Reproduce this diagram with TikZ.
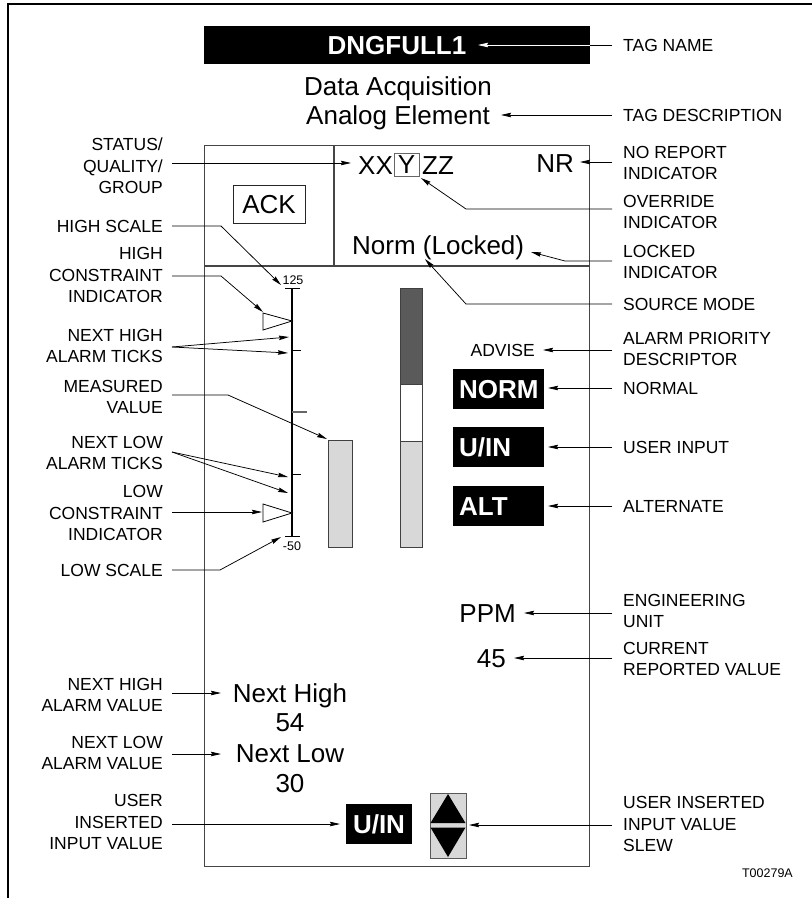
\documentclass[tikz,border=0pt]{standalone}
\usepackage{fontspec}
\setmainfont{Liberation Sans}
\usetikzlibrary{arrows.meta}
\newcommand\labfont{\fontsize{17.5}{21.5}\selectfont}
\newcommand\dispfont{\fontsize{26}{30}\selectfont}
\newcommand\boldfont{\fontsize{26}{30}\selectfont\bfseries}
\newcommand\tinyfont{\fontsize{12.5}{14}\selectfont}
\definecolor{bardark}{HTML}{5A5A5A}
\definecolor{barlight}{HTML}{D8D8D8}
\definecolor{framegray}{HTML}{454545}
\begin{document}
\begin{tikzpicture}[x=1pt,y=-1pt,
  lab/.style={font=\labfont, inner sep=0pt},
  labR/.style={lab, anchor=east, align=right},
  labL/.style={lab, anchor=west, align=left},
  disp/.style={font=\dispfont, inner sep=0pt, text height=18.7pt, text depth=0pt},
  arr/.style={draw=black, line width=0.75pt, -{Stealth[length=10pt,width=4.5pt,inset=1pt]}},
  plain/.style={draw=black, line width=0.75pt},
  frame/.style={draw=framegray, line width=1.1pt},
  bbox/.style={fill=black, text=white, font=\boldfont, inner xsep=6pt, inner ysep=0pt,
    text height=18.7pt, text depth=0pt, minimum height=40pt, text width=79pt,
    align=left, anchor=north west},
  constr/.style={draw=black, fill=white, line width=0.8pt, line join=miter}
]
\useasboundingbox (0,0) rectangle (812,898);
% outer frame
\draw[line width=1.2pt] (8,898) -- (8,4) -- (812,4);

% tag name
\node (tagbox) [fill=black, minimum width=386pt, minimum height=38pt, inner sep=0pt] at (397,45) {};
\node (tagtext) [font=\boldfont, text=white, text height=18.7pt, text depth=0pt, inner sep=0pt] at (397,45) {DNGFULL1};
\node (desc1) [disp] at (398,86) {Data Acquisition};
\node (desc2) [disp] at (398,115.5) {Analog Element};

% display frame
\node (panel) [frame, minimum width=385pt, minimum height=721pt, inner sep=0pt, anchor=north west] at (204,145) {};
\draw[frame] (204,266) -- (589,266);
\draw[frame] (334,145) -- (334,266);

\node (ack) [draw=black!85, line width=0.8pt, font=\dispfont, text height=18.7pt, text depth=0pt, inner sep=0pt, minimum width=72pt, minimum height=38pt] at (269,204) {ACK};
\node (xx) [disp, anchor=west] at (358,165) {XX};
\node (yy) [disp, draw=black!60, line width=0.8pt, minimum width=25pt, minimum height=23pt] at (406.5,164.5) {Y};
\node (zz) [disp, anchor=west] at (422,165) {ZZ};
\node (nr) [disp, anchor=east] at (574,163) {NR};
\node (norml) [disp, anchor=west] at (352,245) {Norm (Locked)};

% scale
\draw[line width=1.1pt] (292,288) -- (292,536);
\draw[line width=1pt] (285,288) -- (300,288);
\draw[line width=1pt] (285,536) -- (300,536);
\draw[line width=1pt] (292,350) -- (301,350);
\draw[line width=1.1pt, draw=black!60] (292,412) -- (307,412);
\draw[line width=1pt] (292,474) -- (301,474);
\node (s125) [font=\tinyfont, inner sep=0pt, text height=9pt, text depth=0pt] at (293,280) {125};
\node (s50) [font=\tinyfont, inner sep=0pt, text height=9pt, text depth=0pt] at (292,546) {-50};
\draw[constr] (263,313) -- (292,321) -- (263,330) -- cycle;
\draw[constr] (263,504) -- (292,513) -- (263,522) -- cycle;

% bars
\draw[draw=black!75, fill=barlight, line width=0.9pt] (328,440) rectangle (352,547);
\fill[bardark] (400,288) rectangle (422,384);
\fill[white] (400,384) rectangle (422,441);
\fill[barlight] (400,441) rectangle (422,547);
\draw[draw=black!75, line width=0.9pt] (400,288) rectangle (422,547);
\draw[draw=black!75, line width=0.9pt] (400,384) -- (422,384);
\draw[draw=black!75, line width=0.9pt] (400,441) -- (422,441);

% right column indicators
\node (advise) [lab, anchor=east, text height=12.6pt, text depth=0pt] at (535,350) {ADVISE};
\node (norm) [bbox] at (453,368.5) {NORM};
\node (uin) [bbox] at (453,427) {U/IN};
\node (alt) [bbox] at (453,485.5) {ALT};
\node (ppm) [disp, anchor=east] at (516,613) {PPM};
\node (cur) [disp, anchor=east] at (506,658) {45};

% next alarm values
\node (nh) [disp] at (290,693) {Next High};
\node (nhval) [disp] at (290,722) {54};
\node (nl) [disp] at (290,753) {Next Low};
\node (nlval) [disp] at (290,783) {30};

% user input + slew
\node (uin2) [fill=black, text=white, font=\boldfont, text height=18.7pt, text depth=0pt, inner sep=0pt, minimum width=66pt, minimum height=40pt] at (379,824) {U/IN};
\node (slew) [draw=black!65, fill=barlight, line width=0.9pt, minimum width=36pt, minimum height=65pt, inner sep=0pt, anchor=north west] at (430,793) {};
\fill[black] (430.5,823) -- (448,794) -- (465.5,823) -- cycle;
\fill[black] (430.5,827.5) -- (465.5,827.5) -- (448,857) -- cycle;

\node (fig) [font=\tinyfont, anchor=east, inner sep=0pt, text height=9pt, text depth=0pt] at (793,873) {T00279A};

% right labels
\node[labL] (ltag) at (623,45) {TAG NAME};
\node[labL] (ldesc) at (623,115) {TAG DESCRIPTION};
\node[labL] (lnr) at (623,163) {NO REPORT\\INDICATOR};
\node[labL] (lovr) at (623,212) {OVERRIDE\\INDICATOR};
\node[labL] (llock) at (623,262) {LOCKED\\INDICATOR};
\node[labL] (lsrc) at (623,304) {SOURCE MODE};
\node[labL] (lprio) at (623,349) {ALARM PRIORITY\\DESCRIPTOR};
\node[labL] (lnorm) at (623,388) {NORMAL};
\node[labL] (luin) at (623,447) {USER INPUT};
\node[labL] (lalt) at (623,506) {ALTERNATE};
\node[labL] (leng) at (623,611) {ENGINEERING\\UNIT};
\node[labL] (lcur) at (623,659) {CURRENT\\REPORTED VALUE};
\node[labL] (lslew) at (623,824) {USER INSERTED\\INPUT VALUE\\SLEW};

% left labels
\node[labR] (lstatus) at (163,166) {STATUS/\\QUALITY/\\GROUP};
\node[labR] (lhscale) at (163,226) {HIGH SCALE};
\node[labR] (lhcon) at (163,275) {HIGH\\CONSTRAINT\\INDICATOR};
\node[labR] (lnht) at (163,346) {NEXT HIGH\\ALARM TICKS};
\node[labR] (lmeas) at (163,397) {MEASURED\\VALUE};
\node[labR] (lnlt) at (163,453) {NEXT LOW\\ALARM TICKS};
\node[labR] (llcon) at (163,513) {LOW\\CONSTRAINT\\INDICATOR};
\node[labR] (llscale) at (163,570) {LOW SCALE};
\node[labR] (lnhv) at (163,695) {NEXT HIGH\\ALARM VALUE};
\node[labR] (lnlv) at (163,753) {NEXT LOW\\ALARM VALUE};
\node[labR] (luser) at (163,822) {USER\\INSERTED\\INPUT VALUE};

% arrow targets and bends
\coordinate (tTag) at (478,45);
\coordinate (tDesc) at (501,115);
\coordinate (tNR) at (580,162);
\coordinate (bOvr) at (466,209);
\coordinate (tOvr) at (421,178);
\coordinate (bLock) at (565,261);
\coordinate (tLock) at (531,252);
\coordinate (bSrc) at (466,304);
\coordinate (tSrc) at (425,259);
\coordinate (tPrio) at (543,350);
\coordinate (tNorm) at (548,388);
\coordinate (tUin) at (548,447);
\coordinate (tAlt) at (548,506);
\coordinate (tEng) at (524,613);
\coordinate (tCur) at (514,658);
\coordinate (tSlew) at (469,825);
\coordinate (tStatus) at (351,163);
\coordinate (bHs) at (221,226);
\coordinate (tHs) at (281,285);
\coordinate (bHc) at (221,276);
\coordinate (tHc) at (263,312);
\coordinate (tNht1) at (289,337);
\coordinate (tNht2) at (288,353);
\coordinate (bMeas) at (228,395);
\coordinate (tMeas) at (327,439);
\coordinate (tNlt1) at (288,477);
\coordinate (tNlt2) at (288,493);
\coordinate (tLc) at (262,512);
\coordinate (bLs) at (220,570);
\coordinate (tLs) at (281,537);
\coordinate (tNhv) at (221,693);
\coordinate (tNlv) at (221,754);
\coordinate (tUser) at (340,824);

% right arrows
\draw[plain] ([shift={(-11,0)}]ltag.west) -- (tagbox.east);
\draw[arr, draw=white, fill=white] (tagbox.east) -- (tTag);
\draw[arr] ([shift={(-11,0)}]ldesc.west) -- (tDesc);
\draw[arr] ([shift={(-11,-1)}]lnr.west) -- (tNR);
\draw[arr] ([shift={(-11,-3)}]lovr.west) -- (bOvr) -- (tOvr);
\draw[arr] ([shift={(-11,-1)}]llock.west) -- (bLock) -- (tLock);
\draw[arr] ([shift={(-11,0)}]lsrc.west) -- (bSrc) -- (tSrc);
\draw[arr] ([shift={(-11,1)}]lprio.west) -- (tPrio);
\draw[arr] ([shift={(-11,0)}]lnorm.west) -- (tNorm);
\draw[arr] ([shift={(-11,0)}]luin.west) -- (tUin);
\draw[arr] ([shift={(-11,0)}]lalt.west) -- (tAlt);
\draw[arr] ([shift={(-11,2)}]leng.west) -- (tEng);
\draw[arr] ([shift={(-11,-1)}]lcur.west) -- (tCur);
\draw[arr] ([shift={(-11,1)}]lslew.west) -- (tSlew);

% left arrows
\draw[arr] ([shift={(9,-3)}]lstatus.east) -- (tStatus);
\draw[arr] ([shift={(9,0)}]lhscale.east) -- (bHs) -- (tHs);
\draw[arr] ([shift={(9,1)}]lhcon.east) -- (bHc) -- (tHc);
\draw[arr] ([shift={(9,1)}]lnht.east) -- (tNht1);
\draw[arr] ([shift={(9,1)}]lnht.east) -- (tNht2);
\draw[arr] ([shift={(9,-2)}]lmeas.east) -- (bMeas) -- (tMeas);
\draw[arr] ([shift={(9,-1)}]lnlt.east) -- (tNlt1);
\draw[arr] ([shift={(9,-1)}]lnlt.east) -- (tNlt2);
\draw[arr] ([shift={(9,-1)}]llcon.east) -- (tLc);
\draw[arr] ([shift={(9,0)}]llscale.east) -- (bLs) -- (tLs);
\draw[arr] ([shift={(9,-2)}]lnhv.east) -- (tNhv);
\draw[arr] ([shift={(9,1)}]lnlv.east) -- (tNlv);
\draw[arr] ([shift={(9,2)}]luser.east) -- (tUser);
\end{tikzpicture}
\end{document}
